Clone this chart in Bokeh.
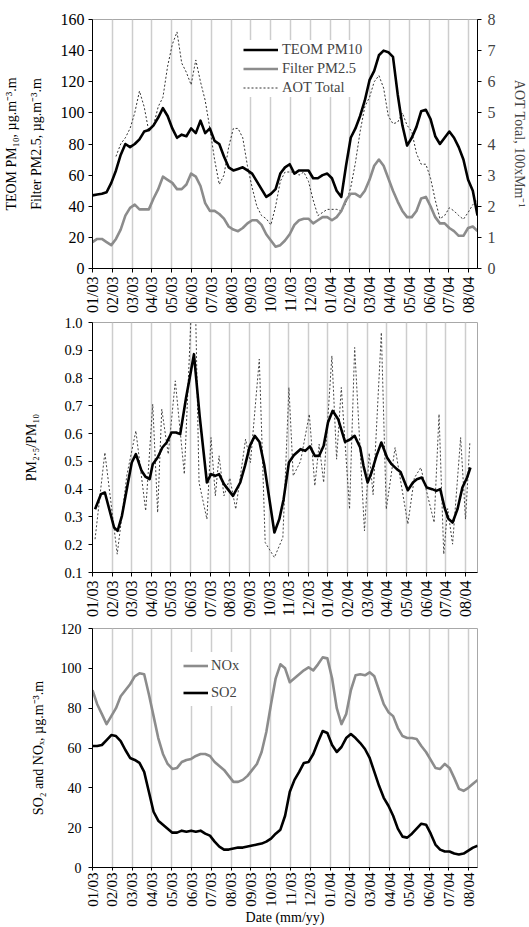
import numpy as np
from bokeh.plotting import figure
from bokeh.models import (Range1d, LinearAxis, FixedTicker, Legend, LegendItem,
                          PrintfTickFormatter)
from bokeh.layouts import column
from bokeh.embed import file_html
from bokeh.resources import INLINE

# ---------------- data ----------------
month_labels = ["01/03", "02/03", "03/03", "04/03", "05/03", "06/03", "07/03", "08/03",
                "09/03", "10/03", "11/03", "12/03", "01/04", "02/04", "03/04", "04/04",
                "05/04", "06/04", "07/04", "08/04"]

# weekly samples (top and bottom panels)
teom_pm10 = [47, 47.5, 48, 49, 55, 63, 73, 80, 78, 80,
             83, 88, 89, 92, 97, 103, 98, 90, 84, 86,
             85, 90, 87, 95, 87, 90, 82, 80, 72, 65,
             63, 64, 65, 63, 61, 56, 51, 46, 48, 51,
             61, 65, 67, 61, 63, 63, 63, 58, 58, 60,
             61, 58, 50, 46, 66, 84, 90, 98, 108, 121,
             127, 137, 140, 139, 136, 112, 92, 79, 84, 91,
             101, 102, 96, 85, 80, 84, 88, 84, 78, 70,
             57, 50, 34]
filter_pm25 = [17, 19, 19, 17, 15, 19, 25, 34, 39, 41,
               38, 38, 38, 45, 51, 59, 57, 55, 51, 51,
               54, 61, 59, 53, 42, 37, 37, 35, 32, 27,
               25, 24, 26, 29, 31, 31, 28, 22, 18, 14,
               15, 18, 22, 28, 31, 32, 32, 29, 31, 33,
               33, 31, 33, 37, 44, 48, 48, 46, 50, 57,
               66, 70, 66, 58, 50, 43, 37, 33, 33, 37,
               45, 46, 40, 33, 29, 29, 26, 24, 21, 21,
               26, 27, 24]
aot_total = [np.nan, np.nan, np.nan, np.nan, np.nan, 3.6, 4.0, 4.2, 4.5, 5.0,
             5.7, 5.2, 4.4, 4.6, 5.2, 5.5, 6.5, 7.2, 7.6, 6.6,
             6.3, 5.9, 6.7, 6.0, 5.4, 4.5, 3.5, 2.7, 3.0, 3.9,
             4.5, 4.5, 4.2, 3.3, 2.6, 2.0, 1.7, 1.6, 1.4, 2.0,
             2.8, 3.1, 3.1, 3.1, 3.0, 3.1, 2.8, 2.2, 1.7, 1.8,
             1.9, 1.9, 1.9, 1.85, 2.1, 2.6, 3.4, 4.4, 5.2, 5.5,
             6.0, 6.2, 5.8, 4.9, 4.65, 4.7, 5.0, 4.6, 4.4, 3.7,
             3.35, 3.35, 2.9, 2.2, 1.6, 1.7, 1.95, 1.85, 1.7, 1.58,
             1.8, 2.05, 2.2]

nox = [89, 82, 77, 72, 76, 80, 86, 89, 92, 96,
       97.5, 97, 87, 76, 65, 57, 52, 49.5, 50, 53,
       54, 54.5, 56, 57, 57, 56, 53, 51, 49, 46,
       43, 43, 44, 46, 49, 52, 58, 68, 82, 95,
       102, 100, 93, 95, 97, 99, 100.5, 99, 102, 105.5,
       105, 95, 80, 72, 77, 89, 96.5, 97, 96.5, 98,
       96, 89, 82, 78, 76, 70, 66, 65, 65, 64.5,
       61, 58, 54, 50, 49.5, 52, 50, 45, 39.5, 38.5,
       40, 42, 44]
so2 = [61, 61, 61.5, 64, 66.5, 66, 63.5, 59, 55, 54,
       52.5, 48, 38, 28, 23.5, 21.5, 19.5, 17.5, 17.5, 18.5,
       18, 18.5, 18, 18.5, 17, 16, 13, 10.5, 9, 9,
       9.5, 10, 10, 10.5, 11, 11.5, 12, 13, 14.5, 17,
       19, 26, 38, 44, 48, 52.5, 53, 57, 63, 68.5,
       67.5, 61.5, 58, 60.5, 65, 67, 65, 62.5, 59.5, 55,
       48, 41, 35, 31, 26, 19.5, 15.5, 15, 17, 19.5,
       22, 21.5, 17, 11.5, 9, 8, 8, 7, 6.5, 7,
       8.5, 10, 11]

# PM2.5/PM10 ratio: smoothed (solid) and weekly (dotted), x in months since 01/03
ratio_smooth_month = [0.13, 0.43, 0.63, 1.10, 1.28, 1.50, 1.78, 2.00, 2.21, 2.50,
                      2.71, 2.91, 3.07, 3.32, 3.56, 3.78, 4.03, 4.26, 4.47, 4.77,
                      5.02, 5.17, 5.46, 5.83, 6.04, 6.26, 6.45, 6.70, 7.16, 7.53,
                      7.77, 8.02, 8.27, 8.51, 8.76, 9.04, 9.27, 9.52, 9.74, 10.01,
                      10.26, 10.60, 10.84, 11.08, 11.33, 11.55, 11.78, 12.00, 12.24, 12.52,
                      12.87, 13.10, 13.36, 13.64, 13.81, 14.02, 14.22, 14.47, 14.72, 15.01,
                      15.24, 15.51, 15.70, 16.07, 16.33, 16.53, 16.78, 17.03, 17.31, 17.52,
                      17.72, 17.94, 18.13, 18.35, 18.60, 18.85, 19.09, 19.26]
ratio_smooth = [0.328, 0.382, 0.388, 0.262, 0.250, 0.304, 0.412, 0.496, 0.526, 0.466,
                0.444, 0.436, 0.490, 0.514, 0.550, 0.568, 0.604, 0.604, 0.598, 0.730,
                0.826, 0.886, 0.664, 0.424, 0.454, 0.448, 0.454, 0.418, 0.376, 0.424,
                0.484, 0.556, 0.592, 0.570, 0.484, 0.352, 0.244, 0.292, 0.364, 0.496,
                0.522, 0.544, 0.538, 0.554, 0.520, 0.520, 0.556, 0.640, 0.682, 0.652,
                0.570, 0.578, 0.592, 0.550, 0.484, 0.424, 0.460, 0.520, 0.568, 0.514,
                0.490, 0.472, 0.462, 0.396, 0.424, 0.436, 0.442, 0.406, 0.400, 0.394,
                0.400, 0.334, 0.294, 0.280, 0.328, 0.406, 0.442, 0.478]
ratio_weekly_month = [0.13, 0.63, 1.26, 1.75, 2.21, 2.71, 3.07, 3.32, 3.53, 3.86,
                      4.22, 4.68, 5.02, 5.26, 5.43, 5.83, 6.04, 6.26, 6.45, 6.70,
                      7.00, 7.30, 7.80, 8.05, 8.50, 8.80, 9.27, 9.70, 10.01, 10.23,
                      10.60, 11.05, 11.33, 11.55, 11.78, 12.20, 12.44, 12.68, 13.10, 13.36,
                      13.86, 14.10, 14.30, 14.72, 14.97, 15.42, 16.07, 16.40, 16.73, 17.41,
                      17.66, 17.90, 18.10, 18.35, 18.76, 19.01, 19.23]
ratio_weekly = [0.220, 0.532, 0.166, 0.450, 0.610, 0.322, 0.706, 0.316, 0.688, 0.526,
                0.790, 0.454, 1.020, 1.020, 0.424, 0.292, 0.586, 0.376, 0.520, 0.376,
                0.440, 0.328, 0.580, 0.496, 0.868, 0.208, 0.154, 0.226, 0.766, 0.448,
                0.500, 0.670, 0.412, 0.562, 0.424, 0.880, 0.508, 0.766, 0.328, 0.910,
                0.250, 0.530, 0.380, 0.964, 0.328, 0.550, 0.274, 0.440, 0.478, 0.280,
                0.670, 0.166, 0.330, 0.202, 0.586, 0.292, 0.568]

# sample positions (months since 01/03) of the weekly series
week_month = np.linspace(0, 19.45, len(teom_pm10))

# ---------------- styling helpers ----------------
FONT = "Liberation Serif"
GREY = "#8c8c8c"
GRID = "#cdcdcd"
month_ticks = list(range(len(month_labels)))


def base_figure(height, xend, yr, left, right, top, bottom, xfs, yfs):
    p = figure(width=529, height=height, x_range=Range1d(0, xend), y_range=yr,
               output_backend="svg", toolbar_location=None,
               min_border_left=left, min_border_right=right,
               min_border_top=top, min_border_bottom=bottom)
    p.outline_line_color = "#a8a8a8"
    p.outline_line_width = 1
    p.background_fill_color = "white"
    p.border_fill_color = "white"
    p.ygrid.visible = False
    p.xgrid.ticker = FixedTicker(ticks=month_ticks)
    p.xgrid.grid_line_color = GRID
    p.xgrid.grid_line_width = 1.5
    xa = p.xaxis[0]
    xa.ticker = FixedTicker(ticks=month_ticks)
    xa.major_label_overrides = {i: s for i, s in enumerate(month_labels)}
    xa.major_label_orientation = np.pi / 2
    for ax, fs in ((p.xaxis[0], xfs), (p.yaxis[0], yfs)):
        ax.axis_line_color = "black"
        ax.major_tick_line_color = "black"
        ax.major_tick_out = 4
        ax.major_tick_in = 0
        ax.minor_tick_line_color = None
        ax.major_label_text_font = FONT
        ax.major_label_text_font_size = fs
        ax.major_label_text_color = "black"
        ax.axis_label_text_font = FONT
        ax.axis_label_text_font_size = "14px"
        ax.axis_label_text_font_style = "normal"
        ax.axis_label_text_color = "black"
    xa.major_label_standoff = 4
    return p


def label_only_axis(text, standoff):
    ax = LinearAxis(axis_label=text, ticker=FixedTicker(ticks=[]))
    ax.axis_line_color = None
    ax.major_tick_line_color = None
    ax.minor_tick_line_color = None
    ax.major_tick_out = 0
    ax.major_label_text_font_size = "0px"
    ax.axis_label_text_font = FONT
    ax.axis_label_text_font_size = "14px"
    ax.axis_label_text_font_style = "normal"
    ax.axis_label_text_color = "black"
    ax.axis_label_standoff = standoff
    return ax


# ---------------- panel 1 ----------------
p1 = base_figure(316, 19.45, Range1d(0, 160), 85, 52, 19, 48, "16px", "16px")
p1.yaxis[0].ticker = FixedTicker(ticks=list(range(0, 161, 20)))
p1.yaxis[0].major_label_standoff = 4
p1.yaxis[0].axis_label = "Filter PM2.5, µg.m⁻³.m"
p1.yaxis[0].axis_label_standoff = 14
p1.add_layout(label_only_axis("TEOM PM₁₀, µg.m⁻³.m", 7), "left")
p1.extra_y_ranges = {"aot": Range1d(0, 8)}
ra = LinearAxis(y_range_name="aot", ticker=FixedTicker(ticks=list(range(9))),
                axis_label="AOT Total, 100xMm⁻¹")
ra.axis_line_color = "black"
ra.major_tick_line_color = "black"
ra.major_tick_out = 4
ra.major_tick_in = 0
ra.minor_tick_line_color = None
ra.major_label_text_font = FONT
ra.major_label_text_font_size = "16px"
ra.major_label_standoff = 6
ra.axis_label_text_font = FONT
ra.axis_label_text_font_size = "14px"
ra.axis_label_text_font_style = "normal"
ra.axis_label_standoff = 13
p1.add_layout(ra, "right")

r_aot = p1.line(week_month, aot_total, y_range_name="aot", line_color="#333333",
                line_width=1, line_dash="2 2")
r_pm25 = p1.line(week_month, filter_pm25, line_color=GREY, line_width=2.6, line_join="round")
r_pm10 = p1.line(week_month, teom_pm10, line_color="black", line_width=2.6, line_join="round")

leg1 = Legend(items=[LegendItem(label="TEOM PM10", renderers=[r_pm10]),
                     LegendItem(label="Filter PM2.5", renderers=[r_pm25]),
                     LegendItem(label="AOT Total", renderers=[r_aot])],
              location=(151, 171), orientation="vertical")
leg1.border_line_color = None
leg1.background_fill_color = "white"
leg1.background_fill_alpha = 1.0
leg1.padding = 0
leg1.margin = 0
leg1.spacing = 0
leg1.label_height = 19
leg1.glyph_height = 19
leg1.glyph_width = 35
leg1.label_standoff = 4
leg1.label_text_font = FONT
leg1.label_text_font_size = "14.5px"
p1.add_layout(leg1)

# ---------------- panel 2 ----------------
p2 = base_figure(306, 19.62, Range1d(0.1, 1.0), 83, 50, 6, 50, "16px", "14.5px")
p2.yaxis[0].ticker = FixedTicker(ticks=[round(0.1 * i, 1) for i in range(1, 11)])
p2.yaxis[0].formatter = PrintfTickFormatter(format="%.1f")
p2.yaxis[0].major_label_standoff = 6
p2.yaxis[0].axis_label = "PM₂.₅/PM₁₀"
p2.yaxis[0].axis_label_standoff = 22
p2.line(ratio_weekly_month, ratio_weekly, line_color="#444444", line_width=1, line_dash="2 2")
p2.line(ratio_smooth_month, ratio_smooth, line_color="black", line_width=2.6, line_join="round")

# ---------------- panel 3 ----------------
p3 = base_figure(305, 19.44, Range1d(0, 120), 85, 47, 6, 60, "15px", "14px")
p3.yaxis[0].ticker = FixedTicker(ticks=list(range(0, 121, 20)))
p3.yaxis[0].major_label_standoff = 7
p3.yaxis[0].axis_label = "SO₂ and NOₓ, µg.m⁻³.m"
p3.yaxis[0].axis_label_standoff = 12
p3.xaxis[0].axis_label = "Date (mm/yy)"
p3.xaxis[0].axis_label_standoff = 0
p3.xaxis[0].major_tick_out = 3
p3.xaxis[0].major_label_standoff = 2
r_nox = p3.line(week_month, nox, line_color=GREY, line_width=2.6, line_join="round")
r_so2 = p3.line(week_month, so2, line_color="black", line_width=2.6, line_join="round")
leg3 = Legend(items=[LegendItem(label="NOx", renderers=[r_nox]),
                     LegendItem(label="SO2", renderers=[r_so2])],
              location=(91, 161), orientation="vertical")
leg3.border_line_color = None
leg3.background_fill_color = "white"
leg3.background_fill_alpha = 1.0
leg3.padding = 0
leg3.margin = 0
leg3.spacing = 0
leg3.label_height = 27
leg3.glyph_height = 27
leg3.glyph_width = 25
leg3.label_standoff = 3
leg3.label_text_font = FONT
leg3.label_text_font_size = "14.5px"
p3.add_layout(leg3)

layout = column(p1, p2, p3, spacing=0)
open("out.html", "w").write(file_html(layout, INLINE))
